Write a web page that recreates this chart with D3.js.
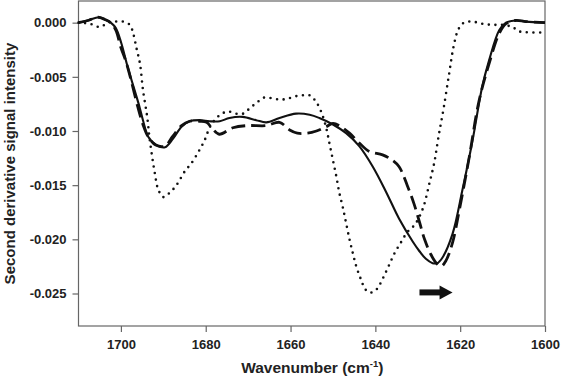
<!DOCTYPE html>
<html>
<head>
<meta charset="utf-8">
<script src="https://cdn.jsdelivr.net/npm/d3@7"></script>
<style>
  html, body { margin: 0; padding: 0; background: #fff; }
  svg { display: block; }
  text { font-family: "Liberation Sans", Arial, sans-serif; font-weight: bold; fill: #222; }
</style>
</head>
<body>
<svg id="chart" width="561" height="378"></svg>
<script>
// ---- data ----
const xTicks = [1700, 1680, 1660, 1640, 1620, 1600];
const yTicks = [0, -0.005, -0.010, -0.015, -0.020, -0.025];
const yTickLabels = ["0.000", "-0.005", "-0.010", "-0.015", "-0.020", "-0.025"];

const solidWn = [1710, 1707.8, 1705.2, 1703.8, 1702.4, 1701.2, 1699.9, 1698.4, 1696.8, 1695.6, 1694.8, 1693.6, 1691.6, 1689.6, 1687.7, 1685.7, 1683.8, 1681.4, 1679.1, 1676.7, 1674.4, 1671.3, 1668.1, 1665.7, 1662.6, 1658.7, 1655.5, 1653.2, 1650.0, 1646.9, 1643.8, 1640.6, 1637.5, 1634.4, 1631.2, 1629.6, 1628.1, 1626.5, 1625.4, 1624.2, 1621.8, 1619.5, 1617.1, 1614.8, 1613.2, 1610.8, 1609.2, 1606.9, 1604.5, 1600];
const solidVal = [0.0000, 0.0002, 0.0005, 0.0003, 0.0000, -0.0005, -0.0019, -0.0041, -0.0062, -0.0078, -0.0090, -0.0105, -0.0113, -0.0115, -0.0107, -0.0096, -0.0091, -0.0090, -0.0091, -0.0091, -0.0088, -0.0087, -0.0090, -0.0092, -0.0088, -0.0084, -0.0085, -0.0088, -0.0094, -0.0102, -0.0114, -0.0133, -0.0156, -0.0181, -0.0202, -0.0211, -0.0218, -0.0222, -0.0222, -0.0217, -0.0195, -0.0155, -0.0109, -0.0059, -0.0035, -0.0007, 0.0000, 0.0002, 0.0001, 0.0000];

const dashWn = [1710, 1707.8, 1705.4, 1703.8, 1702.4, 1701.2, 1700.0, 1698.8, 1697.6, 1696.0, 1694.8, 1693.6, 1691.8, 1689.6, 1687.8, 1685.7, 1683.8, 1681.4, 1679.8, 1678.4, 1676.8, 1673.6, 1670.1, 1665.7, 1662.6, 1660.2, 1658.4, 1656.0, 1653.9, 1651.6, 1650.0, 1648.5, 1646.1, 1643.8, 1641.4, 1638.3, 1636.0, 1634.4, 1632.5, 1630.9, 1629.6, 1628.4, 1626.9, 1625.6, 1624.5, 1623.4, 1621.8, 1620.2, 1617.9, 1615.6, 1613.2, 1610.8, 1609.2, 1606.9, 1604.5, 1600];
const dashVal = [0.0000, 0.0002, 0.0005, 0.0003, 0.0000, -0.0007, -0.0023, -0.0036, -0.0053, -0.0078, -0.0094, -0.0105, -0.0113, -0.0114, -0.0105, -0.0095, -0.0091, -0.0091, -0.0092, -0.0098, -0.0103, -0.0097, -0.0095, -0.0095, -0.0092, -0.0099, -0.0102, -0.0102, -0.0100, -0.0096, -0.0093, -0.0095, -0.0102, -0.0111, -0.0119, -0.0122, -0.0127, -0.0133, -0.0150, -0.0167, -0.0184, -0.0200, -0.0214, -0.0222, -0.0225, -0.0220, -0.0203, -0.0173, -0.0125, -0.0073, -0.0038, -0.0010, -0.0001, 0.0002, 0.0001, 0.0000];

const dotWn = [1710, 1707.3, 1704.9, 1703.1, 1701.4, 1699.5, 1697.9, 1697.1, 1696.3, 1695.5, 1694.8, 1693.8, 1693.2, 1692.0, 1691.2, 1690.0, 1688.5, 1686.9, 1684.9, 1683.4, 1681.4, 1680.2, 1679.1, 1677.9, 1676.2, 1674.6, 1672.8, 1671.2, 1669.6, 1667.7, 1666.1, 1664.2, 1662.2, 1660.6, 1658.9, 1657.1, 1655.5, 1654.0, 1652.8, 1651.6, 1650.8, 1650.0, 1649.2, 1648.5, 1647.7, 1646.9, 1646.1, 1645.3, 1644.5, 1643.4, 1642.4, 1641.4, 1640.2, 1639.3, 1638.1, 1636.9, 1635.5, 1634.0, 1632.4, 1630.8, 1629.6, 1628.5, 1627.3, 1626.1, 1625.1, 1623.9, 1622.6, 1621.5, 1620.4, 1619.1, 1617.1, 1614.8, 1612.4, 1610.0, 1607.7, 1606.1, 1603.8, 1600];
const dotVal = [0.0000, -0.0001, -0.0004, 0.0000, 0.0001, 0.0001, -0.0002, -0.0010, -0.0024, -0.0038, -0.0062, -0.0087, -0.0108, -0.0139, -0.0154, -0.0161, -0.0157, -0.0150, -0.0137, -0.0130, -0.0117, -0.0108, -0.0097, -0.0090, -0.0084, -0.0082, -0.0084, -0.0084, -0.0079, -0.0073, -0.0069, -0.0070, -0.0071, -0.0070, -0.0068, -0.0067, -0.0067, -0.0073, -0.0082, -0.0097, -0.0112, -0.0127, -0.0142, -0.0157, -0.0170, -0.0185, -0.0200, -0.0213, -0.0225, -0.0237, -0.0246, -0.0249, -0.0248, -0.0244, -0.0235, -0.0225, -0.0213, -0.0203, -0.0193, -0.0187, -0.0179, -0.0168, -0.0149, -0.0129, -0.0105, -0.0079, -0.0047, -0.0021, -0.0006, 0.0000, 0.0001, -0.0001, -0.0002, -0.0002, -0.0004, -0.0008, -0.0009, -0.0009];

// arrow annotation: from / to wavenumber, at intensity
const arrowWn = [1629.6, 1621.8];
const arrowVal = -0.0249;

// ---- drawing ----
const svg = d3.select("#chart");
const mLeft = 78.5, mRight = 545, mTop = 1, mBottom = 326;

const x = d3.scaleLinear().domain([1710, 1600]).range([mLeft, mRight]);
const y = d3.scaleLinear().domain([-0.028, 0.002]).range([mBottom, mTop]);

const line = d3.line()
  .x(d => x(d[0])).y(d => y(d[1]))
  .curve(d3.curveCatmullRom.alpha(0.5));

const zip = (a, b) => a.map((v, i) => [v, b[i]]);

// frame
svg.append("rect")
  .attr("x", mLeft).attr("y", mTop)
  .attr("width", mRight - mLeft).attr("height", mBottom - mTop)
  .attr("fill", "none").attr("stroke", "#666").attr("stroke-width", 1.2);

// x axis
const xAxis = svg.append("g").attr("transform", `translate(0,${mBottom})`)
  .call(d3.axisBottom(x).tickValues(xTicks).tickSize(6).tickPadding(8).tickFormat(d3.format("d")));
xAxis.select(".domain").remove();
xAxis.selectAll("line").attr("stroke", "#666").attr("stroke-width", 1.2);
xAxis.selectAll("text").style("font-size", "13px").attr("fill", "#222");

// y axis
const yAxis = svg.append("g").attr("transform", `translate(${mLeft},0)`)
  .call(d3.axisLeft(y).tickValues(yTicks).tickSize(6).tickPadding(6)
    .tickFormat((d, i) => yTickLabels[i]));
yAxis.select(".domain").remove();
yAxis.selectAll("line").attr("stroke", "#666").attr("stroke-width", 1.2);
yAxis.selectAll("text").style("font-size", "13px").attr("fill", "#222");

// axis titles
const xt = svg.append("text")
  .attr("x", (mLeft + mRight) / 2 + 0.5).attr("y", 373)
  .attr("text-anchor", "middle").style("font-size", "15.5px");
xt.append("tspan").text("Wavenumber (cm");
xt.append("tspan").attr("dy", -6).style("font-size", "9.5px").text("-1");
xt.append("tspan").attr("dy", 6).text(")");

svg.append("text")
  .attr("transform", `translate(14.5,${(mTop + mBottom) / 2}) rotate(-90)`)
  .attr("text-anchor", "middle").style("font-size", "15px")
  .text("Second derivative signal intensity");

// series
const plot = svg.append("g");
plot.append("path").datum(zip(dotWn, dotVal)).attr("d", line)
  .attr("fill", "none").attr("stroke", "#111").attr("stroke-width", 2.6)
  .attr("stroke-linecap", "round").attr("stroke-dasharray", "0,6.6");
plot.append("path").datum(zip(dashWn, dashVal)).attr("d", line)
  .attr("fill", "none").attr("stroke", "#111").attr("stroke-width", 2.8)
  .attr("stroke-dasharray", "14,6");
plot.append("path").datum(zip(solidWn, solidVal)).attr("d", line)
  .attr("fill", "none").attr("stroke", "#111").attr("stroke-width", 2.1);

// arrow
const ax0 = x(arrowWn[0]), ax1 = x(arrowWn[1]), ay = y(arrowVal);
svg.append("line").attr("x1", ax0).attr("x2", ax1 - 10).attr("y1", ay).attr("y2", ay)
  .attr("stroke", "#111").attr("stroke-width", 6);
svg.append("path")
  .attr("d", `M${ax1},${ay} L${ax1 - 13},${ay - 7} L${ax1 - 13},${ay + 7} Z`)
  .attr("fill", "#111");
</script>
</body>
</html>
